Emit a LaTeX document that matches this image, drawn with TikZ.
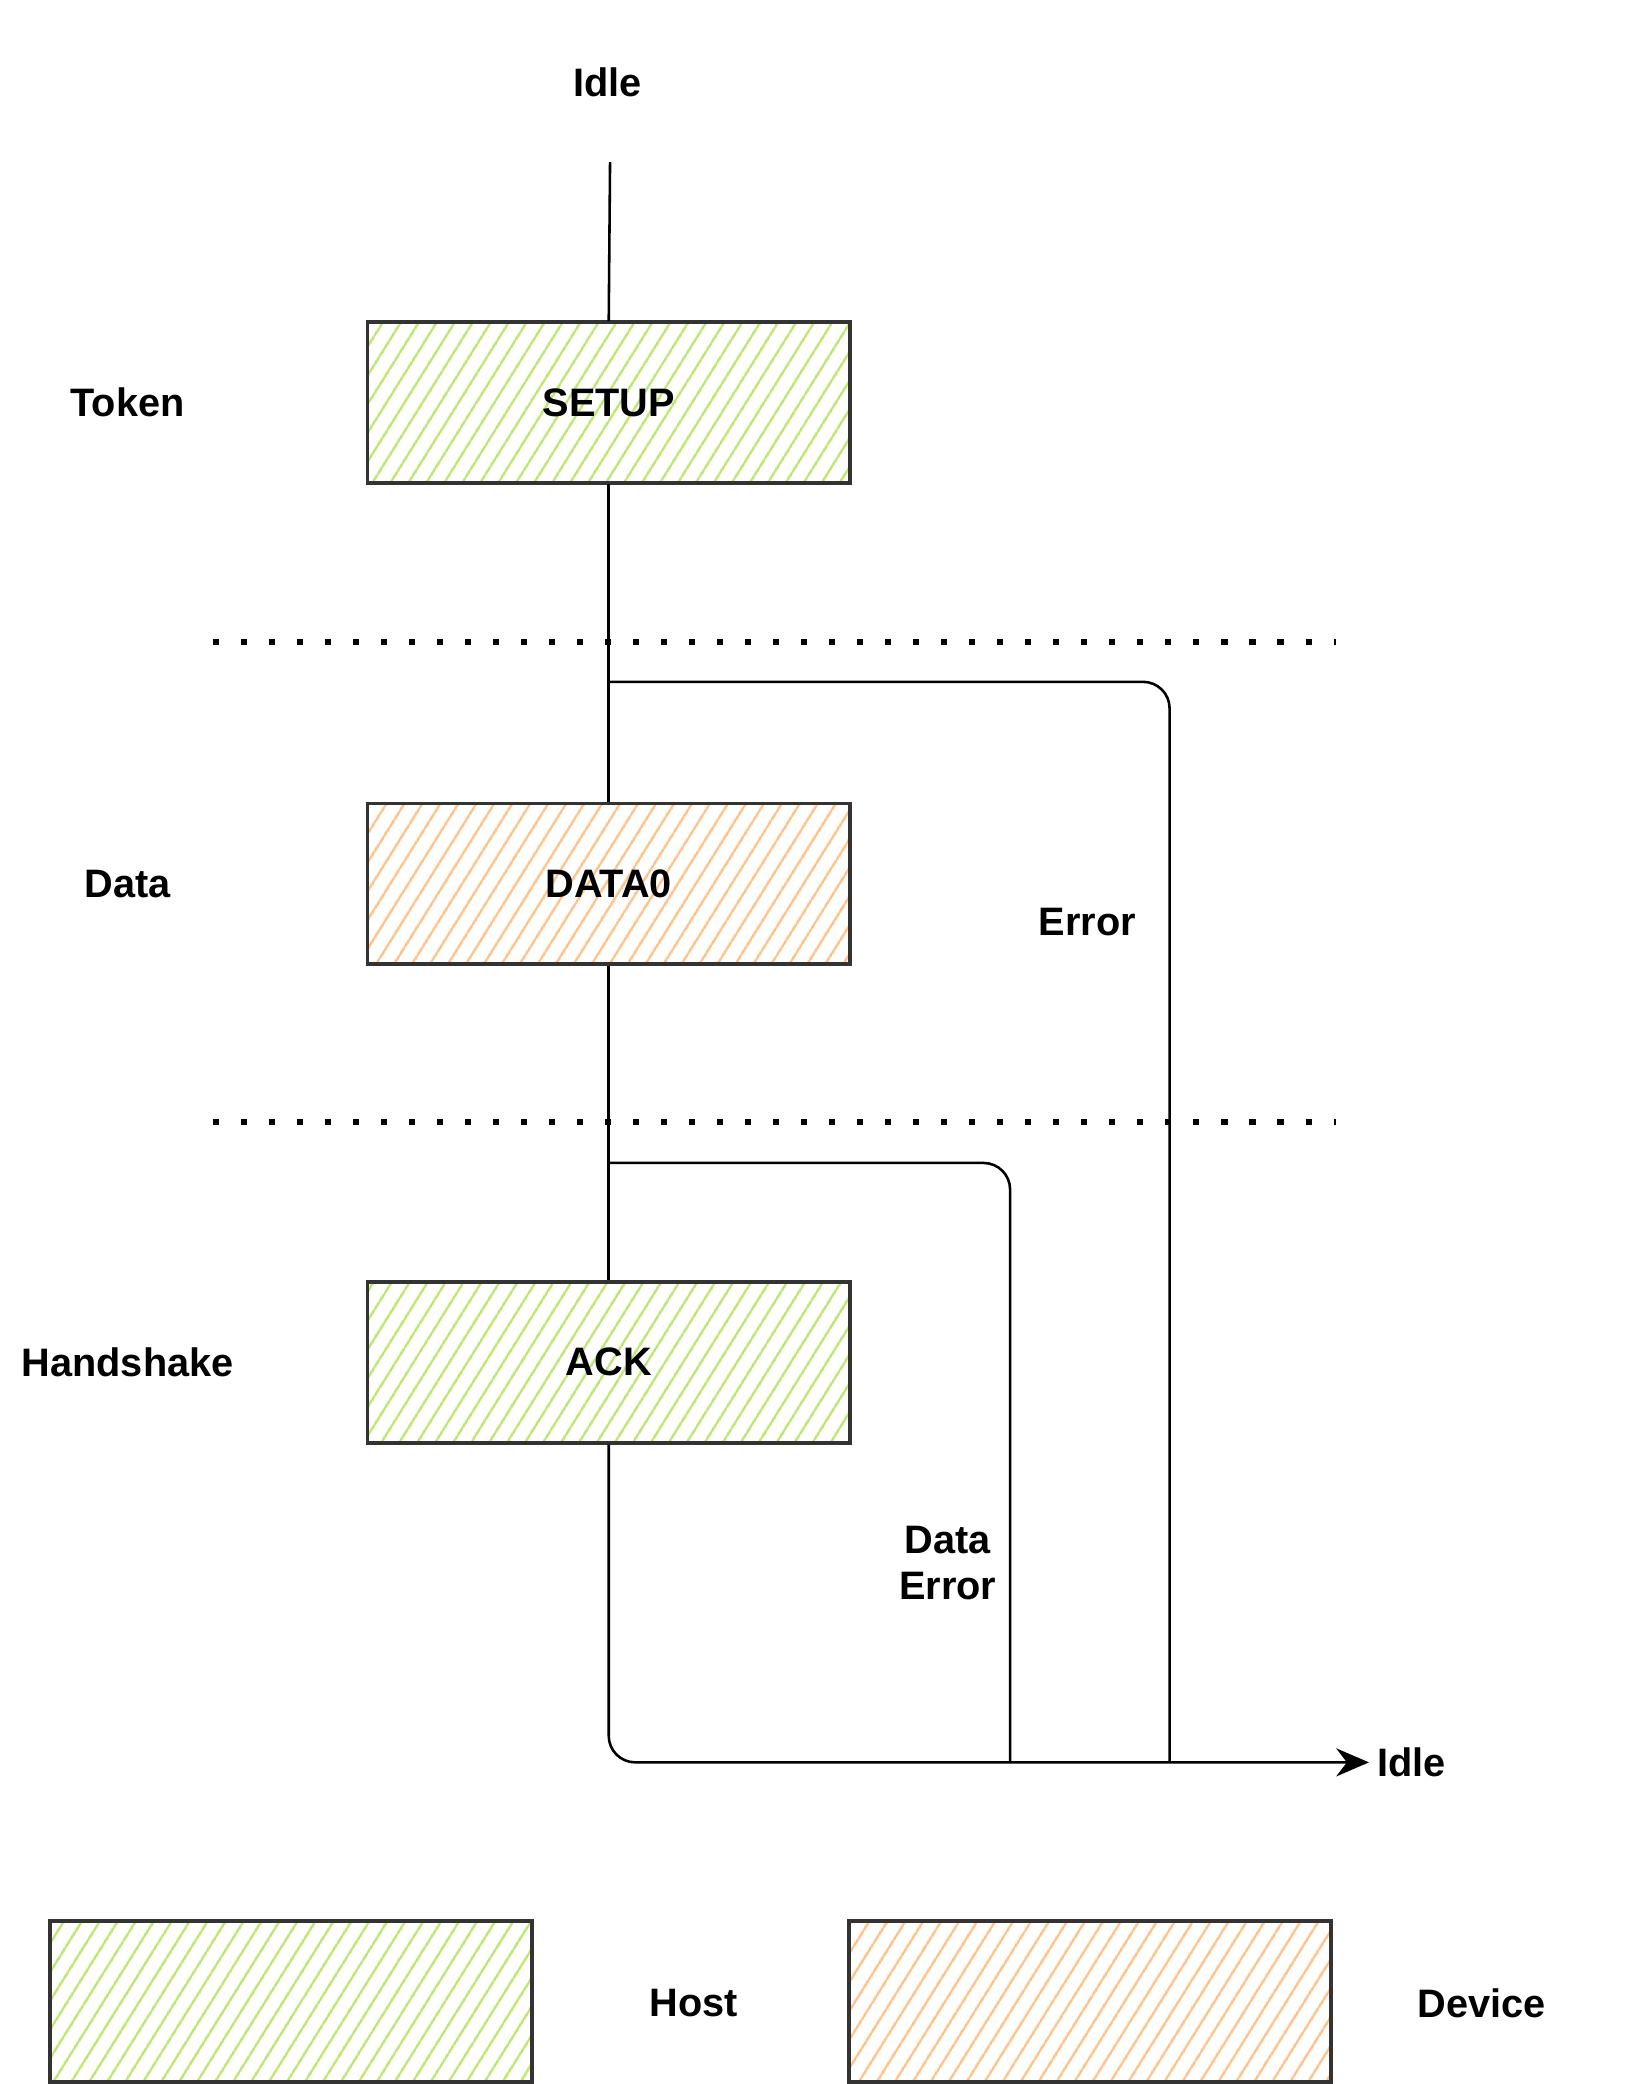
\documentclass[tikz,border=0pt]{standalone}
\usepackage{fontspec}
\setmainfont{Liberation Sans}
\usetikzlibrary{patterns.meta,arrows.meta}
\definecolor{hostg}{RGB}{190,228,110}
\definecolor{devo}{RGB}{255,192,135}
\definecolor{edge}{RGB}{51,51,51}
\begin{document}
\begin{tikzpicture}[x=0.02cm,y=-0.02cm,
  lbl/.style={font=\fontsize{17}{20}\selectfont\bfseries},
  box/.style={draw=edge,line width=1.6pt,minimum width=7.26cm,minimum height=2.42cm,font=\fontsize{17}{20}\selectfont\bfseries},
  host/.style={box,pattern={Lines[angle=58,distance=6.5pt,line width=1.1pt]},pattern color=hostg},
  dev/.style={box,pattern={Lines[angle=58,distance=6.5pt,line width=1.1pt]},pattern color=devo},
  wire/.style={line width=1.1pt,rounded corners=0.4cm},
  dots/.style={line width=2.6pt,dash pattern=on 2.6pt off 9.4pt}]
\useasboundingbox (0,0) rectangle (1240,1568);
\node[lbl] (idle1) at (457,62) {Idle};
\coordinate (top) at (459,122);
\node[host] (setup) at (458,303) {SETUP};
\node[dev] (data0) at (458,665) {DATA0};
\node[host] (ack) at (458,1025) {ACK};
\node[lbl] (tok) at (96,303) {Token};
\node[lbl] (dat) at (96,665) {Data};
\node[lbl] (hs) at (96,1025) {Handshake};
\coordinate (d1a) at (160,483); \coordinate (d1b) at (1005,483);
\coordinate (d2a) at (160,844); \coordinate (d2b) at (1005,844);
\draw[dots] (d1a) -- (d1b);
\draw[dots] (d2a) -- (d2b);
\draw[line width=1.1pt] (top) -- (setup.north);
\draw[line width=1.1pt] (setup.south) -- (data0.north);
\draw[line width=1.1pt] (data0.south) -- (ack.north);
\coordinate (e1) at (459,513); \coordinate (e2) at (880,1325);
\coordinate (f1) at (459,875); \coordinate (f2) at (760,1325);
\coordinate (corner) at (459,1325);
\node[lbl,anchor=west] (idle2) at (1030,1326) {Idle};
\draw[wire] (e1) -| (e2);
\draw[wire] (f1) -| (f2);
\draw[wire,-{Stealth[length=14pt,width=12pt]}] (ack.south) |- (idle2.west);
\node[lbl] (err) at (818,694) {Error};
\node[lbl,align=center] (derr) at (713,1176) {Data\\Error};
\node[host] (lh) at (219,1506) {};
\node[lbl] (hostl) at (522,1507) {Host};
\node[dev] (ld) at (820,1506) {};
\node[lbl] (devl) at (1115,1507) {Device};
\end{tikzpicture}
\end{document}
